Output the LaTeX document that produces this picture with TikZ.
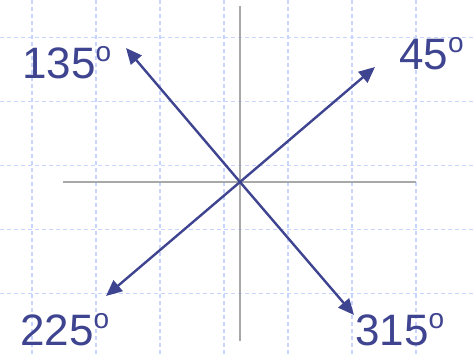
\documentclass[tikz,border=0pt]{standalone}
\usepackage{fontspec}
\setmainfont{Liberation Sans}
\usetikzlibrary{arrows.meta}
\definecolor{arrblue}{HTML}{3F4490}
\definecolor{gridblue}{HTML}{C6D4FF}
\definecolor{axgray}{HTML}{A8A8A8}
\newcommand{\degsup}[1]{\fontsize{44}{44}\selectfont #1\raisebox{17pt}{\fontsize{28}{28}\selectfont o}}
\begin{document}
\begin{tikzpicture}[x=1pt,y=-1pt,
  gridline/.style={gridblue,line width=1.3pt,dash pattern=on 4pt off 3pt},
  axis/.style={axgray,line width=1.5pt},
  vec/.style={arrblue,line width=2.4pt,-{Triangle[length=16pt,width=14pt]}},
  lab/.style={arrblue,inner sep=0pt,anchor=base west}]
\useasboundingbox (0,0) rectangle (474,355);
\fill[white] (0,0) rectangle (474,355);
\foreach \x in {32,96,160,224,288,352,416}
  \draw[gridline] (\x,0) -- (\x,355);
\foreach \y in {37.5,101.5,165.5,229.5,293.5}
  \draw[gridline] (0,\y) -- (474,\y);
\coordinate (o) at (240,182);
\coordinate (xl) at (63,182);
\coordinate (xr) at (416,182);
\coordinate (yt) at (240,6);
\coordinate (yb) at (240,341);
\draw[axis] (xl) -- (xr);
\draw[axis] (yt) -- (yb);
\coordinate (t45) at (375,67);
\coordinate (t135) at (126,48);
\coordinate (t225) at (106,296);
\coordinate (t315) at (354,315);
\draw[vec] (o) -- (t45);
\draw[vec] (o) -- (t135);
\draw[vec] (o) -- (t225);
\draw[vec] (o) -- (t315);
\node[lab] (l135) at (22,79) {\degsup{135}};
\node[lab] (l45) at (399,70) {\degsup{45}};
\node[lab] (l225) at (20,345) {\degsup{225}};
\node[lab] (l315) at (355,345) {\degsup{315}};
\end{tikzpicture}
\end{document}
